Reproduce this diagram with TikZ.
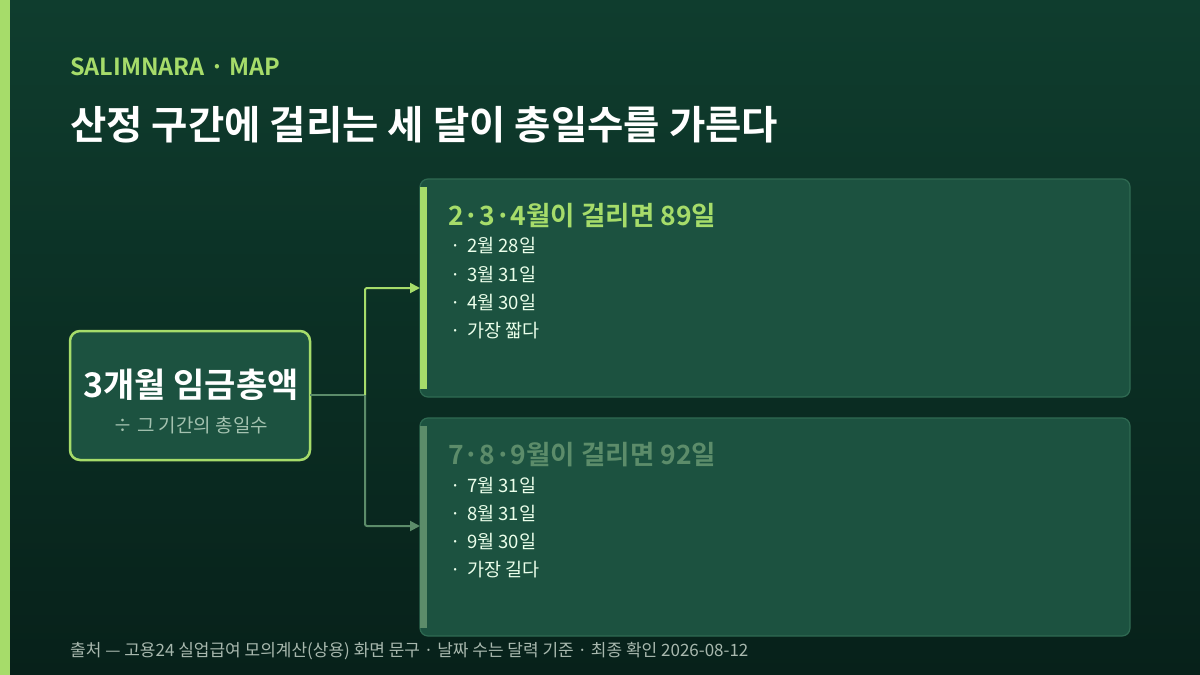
\documentclass[tikz,border=0pt]{standalone}
\usepackage{fontspec}
\setmainfont{Noto Sans CJK KR}
\newfontfamily\kb{Noto Sans CJK KR Bold}
\usetikzlibrary{arrows.meta}
\definecolor{bgtop}{HTML}{0F3D2E}
\definecolor{bgbot}{HTML}{07211A}
\definecolor{lime}{HTML}{A6DC6A}
\definecolor{boxf}{HTML}{1C5240}
\definecolor{boxd}{HTML}{2F6A52}
\definecolor{muted}{HTML}{5C8C6A}
\definecolor{subt}{HTML}{A4C2B0}
\definecolor{foot}{HTML}{A8B8AE}
\tikzset{
 card/.style={draw=boxd, line width=1.2pt, fill=boxf, rounded corners=8pt},
 item/.style={anchor=base west, text=white!92!green, font=\fontsize{18.5}{18.5}\selectfont, inner sep=0},
 ctitle/.style={anchor=west, font=\kb\fontsize{26.5}{26.5}\selectfont, inner sep=0},
 conn/.style={line width=2pt, rounded corners=2pt},
}
\begin{document}
\begin{tikzpicture}[x=1pt,y=-1pt]
\shade[top color=bgtop, bottom color=bgbot] (0,0) rectangle (1200,675);
\useasboundingbox (0,0) rectangle (1200,675);
\fill[lime] (0,0) rectangle (10,675);
\node[anchor=west, text=lime, font=\kb\fontsize{23.5}{23.5}\selectfont, inner sep=0] (tag) at (70,67) {SALIMNARA · MAP};
\node[anchor=west, text=white, font=\kb\fontsize{39.5}{39.5}\selectfont, inner sep=0] (title) at (70,125) {산정 구간에 걸리는 세 달이 총일수를 가른다};
% left node
\draw[draw=lime, line width=2.5pt, fill=boxf, rounded corners=10pt] (70,331) rectangle (310,460);
\coordinate (L) at (310,395);
\node[text=white, font=\kb\fontsize{34}{34}\selectfont, inner sep=0] (main) at (191,385) {3개월 임금총액};
\node[text=subt, font=\fontsize{19}{19}\selectfont, inner sep=0] (sub) at (191,425) {÷ 그 기간의 총일수};
% cards
\draw[card] (420,179) rectangle (1130,397);
\fill[lime] (420,187) rectangle (427,389);
\draw[card] (420,418) rectangle (1130,636);
\fill[muted] (420,426) rectangle (427,628);
\coordinate (A) at (420,288);
\coordinate (B) at (420,526);
\coordinate (J) at (365,395);
\draw[conn, draw=muted] (L) -- (J);
\draw[conn, draw=lime, -{Triangle[length=10pt,width=10pt]}] (J) |- (A);
\draw[conn, draw=muted, -{Triangle[length=10pt,width=10pt]}] (J) |- (B);
\node[ctitle, text=lime] (t1) at (448,216) {2·3·4월이 걸리면 89일};
\foreach \y/\t in {246/2월 28일, 275/3월 31일, 303/4월 30일, 331/가장 짧다}{
  \node[item] at (450,\y+6) {·}; \node[item] at (467,\y+6) {\t};}
\node[ctitle, text=muted] (t2) at (448,455) {7·8·9월이 걸리면 92일};
\foreach \y/\t in {486/7월 31일, 514/8월 31일, 542/9월 30일, 570/가장 길다}{
  \node[item] at (450,\y+6) {·}; \node[item] at (467,\y+6) {\t};}
\node[anchor=west, text=foot, font=\fontsize{17}{17}\selectfont, inner sep=0] (src) at (70,651) {출처 — 고용24 실업급여 모의계산(상용) 화면 문구 · 날짜 수는 달력 기준 · 최종 확인 2026-08-12};
\end{tikzpicture}
\end{document}
